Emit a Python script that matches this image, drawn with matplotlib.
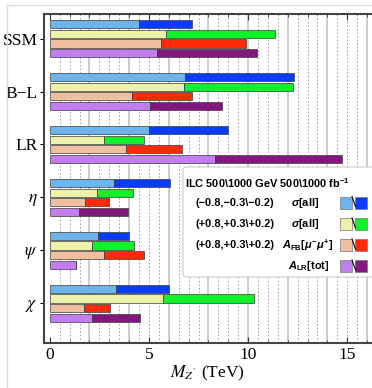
import numpy as np
import matplotlib
matplotlib.use("Agg")
import matplotlib.pyplot as plt
from matplotlib.patches import FancyBboxPatch, Rectangle
from matplotlib.lines import Line2D

# Z' discovery reach (TeV): light = 500 GeV, dark = 1000 GeV
models = ["SSM", "B\u2212L", "LR", r"$\eta$", r"$\psi$", r"$\chi$"]
sigma_neg_500 = [4.5, 6.82, 5.0, 3.25, 2.41, 3.35]
sigma_neg_1000 = [7.17, 12.34, 8.97, 6.06, 3.99, 6.01]
sigma_pos_500 = [5.84, 6.75, 2.74, 2.39, 2.12, 5.72]
sigma_pos_1000 = [11.38, 12.26, 4.76, 4.21, 4.26, 10.32]
afb_500 = [5.59, 4.12, 3.84, 1.75, 2.74, 1.72]
afb_1000 = [9.87, 7.15, 6.68, 2.98, 4.76, 3.03]
alr_500 = [5.42, 5.05, 8.33, 1.48, 1.31, 2.14]
alr_1000 = [10.45, 8.67, 14.75, 3.96, 1.31, 4.55]

legend_pol = ["(\u22120.8,\u22120.3\\\u22120.2)", "(+0.8,+0.3\\+0.2)", "(+0.8,+0.3\\+0.2)", ""]
legend_obs = [r"$\sigma$[all]", r"$\sigma$[all]", r"$A_{\mathrm{FB}}$[$\mu^{-}\mu^{+}$]", r"$A_{\mathrm{LR}}$[tot]"]

series = [
    (sigma_neg_500, sigma_neg_1000, "#6cb4ec", "#0a3cff"),
    (sigma_pos_500, sigma_pos_1000, "#eef2a8", "#0ef22a"),
    (afb_500, afb_1000, "#eec0a0", "#ff2a08"),
    (alr_500, alr_1000, "#c27ef0", "#80187e"),
]

plt.rcParams['mathtext.fontset'] = 'custom'
plt.rcParams['mathtext.it'] = 'Liberation Sans:italic:bold'
plt.rcParams['mathtext.rm'] = 'Liberation Sans:bold'
plt.rcParams['mathtext.bf'] = 'Liberation Sans:bold'

W, H = 372, 388
fig = plt.figure(figsize=(W / 100, H / 100), dpi=100)


def px(x, y):
    # pixel position -> figure fraction
    return x / W, 1 - y / H


ax = fig.add_axes([43.5 / W, 1 - 342.5 / H, (371 - 43.5) / W, (342.5 - 14) / H])

group_step = 5.5
bar_h = 0.86
for j, (v500, v1000, light, dark) in enumerate(series):
    y = np.arange(len(models)) * group_step + j
    ax.barh(y, v500, height=bar_h, color=light, edgecolor="#3a3a3a", linewidth=0.5, zorder=3)
    ax.barh(y, np.array(v1000) - np.array(v500), left=v500, height=bar_h,
            color=dark, edgecolor="#3a3a3a", linewidth=0.5, zorder=3)

# grid: solid every 2 TeV, dotted every 0.5 TeV
for x in np.arange(0.5, 16.1, 0.5):
    if x % 2 == 0:
        ax.axvline(x, color="#c4c4c4", lw=1.2, zorder=1)
    else:
        ax.axvline(x, color="#9a9a9a", lw=0.7, ls=(0, (1.5, 2.2)), zorder=1)

ax.set_xlim(-0.32, 16.2)
ax.set_ylim(33.06, -1.05)

ax.set_xticks([0, 5, 10, 15])
ax.set_xticks(np.arange(0, 16.5, 1), minor=True)
ax.tick_params(axis="x", which="both", direction="in", top=True, bottom=True, color="#333333")
ax.tick_params(axis="x", which="major", length=4, width=0.8, labelsize=12.5, pad=3)
ax.tick_params(axis="x", which="minor", length=2, width=0.6)
for lab in ax.get_xticklabels():
    lab.set_family("Liberation Serif")

centers = np.arange(len(models)) * group_step + 1.5
ax.set_yticks(centers)
ax.set_yticklabels(models)
ax.tick_params(axis="y", which="major", direction="out", length=3, width=0.8, pad=1, labelsize=12.5)
for lab in ax.get_yticklabels():
    lab.set_family("Liberation Serif")
    lab.set_math_fontfamily("stix")

for s in ["left", "bottom", "top"]:
    ax.spines[s].set_color("#444444")
    ax.spines[s].set_linewidth(1.5)
ax.spines["right"].set_visible(False)

ax.set_xlabel(r"$M_{Z'}$ (TeV)", family="Liberation Serif", fontsize=12.5,
              math_fontfamily="stix", labelpad=1)

# legend box
x0, y0 = px(183, 277)
box = FancyBboxPatch((x0, y0), (385 - 183) / W, (277 - 167) / H,
                     boxstyle="round,pad=0,rounding_size=0.01", transform=fig.transFigure,
                     facecolor="white", edgecolor="#cccccc", lw=0.8, zorder=10, clip_on=False)
fig.patches.append(box)

fs = 7.9
fig.text(*px(185, 183), r"ILC 500\1000 GeV 500\1000 fb$^{-1}$", family="Liberation Sans",
         weight="bold", fontsize=fs, va="center", ha="left", zorder=11)

row_y = [202.5, 224, 245, 266]
obs_x = [291, 291, 282, 329]
for k in range(4):
    yy = row_y[k]
    if legend_pol[k]:
        fig.text(*px(196, yy), legend_pol[k], family="Liberation Sans", weight="bold",
                 fontsize=fs, va="center", ha="left", zorder=11)
        fig.text(*px(obs_x[k], yy), legend_obs[k], family="Liberation Sans", weight="bold",
                 fontsize=fs, va="center", ha="left", zorder=11)
    else:
        fig.text(*px(obs_x[k], yy), legend_obs[k], family="Liberation Sans", weight="bold",
                 fontsize=fs, va="center", ha="right", zorder=11)
    light, dark = series[k][2], series[k][3]
    lx, ly = px(340, yy + 6)
    fig.patches.append(Rectangle((lx, ly), 12 / W, 12 / H, transform=fig.transFigure,
                                 facecolor=light, edgecolor="#777777", lw=0.5, zorder=11))
    dx, dy = px(355, yy + 6)
    fig.patches.append(Rectangle((dx, dy), 12 / W, 12 / H, transform=fig.transFigure,
                                 facecolor=dark, edgecolor="#777777", lw=0.5, zorder=11))
    ax1, ay1 = px(352, yy - 6)
    ax2, ay2 = px(355.5, yy + 4)
    fig.lines.append(Line2D([ax1, ax2], [ay1, ay2], transform=fig.transFigure,
                            color="black", lw=0.8, zorder=12))

# faint outer frame of the original image
fig.lines.append(Line2D([7 / W, 7 / W], [0, 1 - 5 / H], transform=fig.transFigure, color="#dddddd", lw=1))
fig.lines.append(Line2D([7 / W, 1], [1 - 5 / H, 1 - 5 / H], transform=fig.transFigure, color="#dddddd", lw=1))

fig.savefig("out.png", dpi=100)
